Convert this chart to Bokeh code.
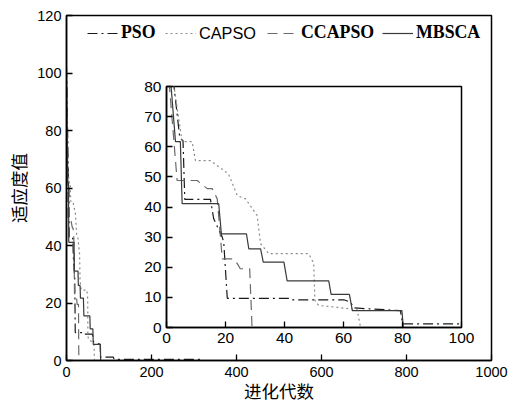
from bokeh.plotting import figure
from bokeh.models import Range1d, Legend, LegendItem, FixedTicker
from bokeh.layouts import column
from bokeh.embed import file_html
from bokeh.resources import INLINE

# ---- data (iteration, fitness) ----
pso_x = [0, 4.5, 5.6, 6.2, 14.9, 16.0, 18.9, 19.4, 20.6, 42.0, 42.5, 60.1, 62.4, 63.5, 79.3, 80.0, 110, 112, 320, 322, 1000]
pso_y = [102, 63, 62, 42.5, 42.5, 36.1, 30.0, 28.3, 9.7, 9.7, 9.2, 9.2, 8.4, 6.5, 5.6, 1.2, 1.2, 0.4, 0.4, 0, 0]

capso_x = [0, 5.3, 8.7, 9.8, 14.9, 21.0, 24.0, 26.8, 30.7, 31.9, 34.7, 48.2, 49.9, 50.3, 51.6, 57.9, 64.6, 65.8, 1000]
capso_y = [97, 61.7, 61.7, 55.4, 55.4, 51.0, 43.8, 42.7, 37.2, 27.8, 24.5, 24.5, 21.3, 9.0, 7.3, 6.7, 5.9, 0, 0]

ccapso_x = [0, 3.6, 10.4, 13.8, 15.5, 17.2, 18.9, 22.5, 24.0, 25.0, 28.2, 29.0, 1000]
ccapso_y = [92, 48.8, 48.8, 46.1, 46.1, 42.7, 22.8, 22.8, 21.2, 19.5, 19.5, 0, 0]

mbsca_x = [0, 3.05, 4.7, 5.3, 17.7, 18.6, 27.1, 27.9, 31.9, 32.8, 39.8, 40.9, 55.0, 55.8, 62.0, 63.0, 79.8, 80.3, 1000]
mbsca_y = [99, 61.7, 61.7, 41.1, 41.1, 31.1, 31.1, 26.1, 26.1, 21.7, 21.7, 15.5, 15.5, 11.0, 11.0, 5.6, 5.6, 0, 0]

series_names = ["PSO", "CAPSO", "CCAPSO", "MBSCA"]
series_x = [pso_x, capso_x, ccapso_x, mbsca_x]
series_y = [pso_y, capso_y, ccapso_y, mbsca_y]
series_color = ["#1a1a1a", "#8a8a8a", "#6a6a6a", "#3a3a3a"]
series_dash = ["10 4 2 4", "2 3", "10 6", "solid"]

main_xticks = [0, 200, 400, 600, 800, 1000]
main_yticks = [0, 20, 40, 60, 80, 100, 120]
inset_xticks = [0, 20, 40, 60, 80, 100]
inset_yticks = [0, 10, 20, 30, 40, 50, 60, 70, 80]


def style(fig, fs):
    fig.xgrid.visible = False
    fig.ygrid.visible = False
    fig.outline_line_color = "black"
    fig.outline_line_width = 1.5
    fig.outline_line_alpha = 1.0
    fig.background_fill_color = "white"
    for ax in fig.axis:
        ax.major_tick_in = 6
        ax.major_tick_out = 0
        ax.major_tick_line_color = "black"
        ax.major_tick_line_width = 1.3
        ax.minor_tick_line_color = None
        ax.axis_line_color = "black"
        ax.axis_line_width = 1.5
        ax.major_label_text_font = "Liberation Sans"
        ax.major_label_text_font_size = fs
        ax.major_label_text_color = "black"
        ax.major_label_standoff = 5


main = figure(width=516, height=405, x_range=Range1d(0, 1000), y_range=Range1d(0, 120),
              output_backend="svg", toolbar_location=None,
              min_border_left=66, min_border_right=25, min_border_top=15, min_border_bottom=44)
style(main, "14.5px")
main.xaxis.ticker = FixedTicker(ticks=main_xticks)
main.yaxis.ticker = FixedTicker(ticks=main_yticks)
main.xaxis.major_label_standoff = 6
main.xaxis.axis_label = "进化代数"
main.yaxis.axis_label = "适应度值"
for ax in main.axis:
    ax.axis_label_text_font = "Noto Sans CJK SC"
    ax.axis_label_text_font_size = "17.5px"
    ax.axis_label_text_font_style = "normal"
    ax.axis_label_text_color = "black"
    ax.axis_label_text_line_height = 0.9
main.xaxis.axis_label_standoff = -2
main.yaxis.axis_label_standoff = 3

renderers = []
for xs, ys, c, d in zip(series_x, series_y, series_color, series_dash):
    r = main.line(xs, ys, line_color=c, line_width=1.2, line_dash=d)
    renderers.append(r)

legend_pos = [(21, 317), (99, 317), (201, 317), (316, 317)]
legend_font = [("Liberation Serif", "bold", "17.8px"), ("Liberation Sans", "normal", "16.3px"),
               ("Liberation Serif", "bold", "17.8px"), ("Liberation Serif", "bold", "17.8px")]
for name, r, pos, (fnt, sty, sz) in zip(series_names, renderers, legend_pos, legend_font):
    leg = Legend(items=[LegendItem(label=name, renderers=[r])], location=pos,
                 orientation="horizontal", padding=0, margin=0, spacing=0,
                 glyph_width=31, glyph_height=20, label_height=20, label_standoff=3,
                 label_text_font=fnt, label_text_font_style=sty, label_text_font_size=sz,
                 label_text_color="black", background_fill_alpha=0, border_line_alpha=0)
    main.add_layout(leg)

# inset: borders equal to the main plot's left/right so the column alignment keeps it in place
inset = figure(width=386, height=277, x_range=Range1d(0, 100), y_range=Range1d(0, 80),
               output_backend="svg", toolbar_location=None,
               min_border_left=66, min_border_right=25, min_border_top=10, min_border_bottom=26,
               styles={"position": "absolute", "left": "100px", "top": "76px", "z-index": "10"})
inset.border_fill_alpha = 0
style(inset, "15.5px")
inset.xaxis.ticker = FixedTicker(ticks=inset_xticks)
inset.yaxis.ticker = FixedTicker(ticks=inset_yticks)
for xs, ys, c, d in zip(series_x, series_y, series_color, series_dash):
    inset.line(xs, ys, line_color=c, line_width=1.2, line_dash=d)

root = column(main, inset, styles={"position": "relative"})

open("out.html", "w").write(file_html(root, INLINE))
